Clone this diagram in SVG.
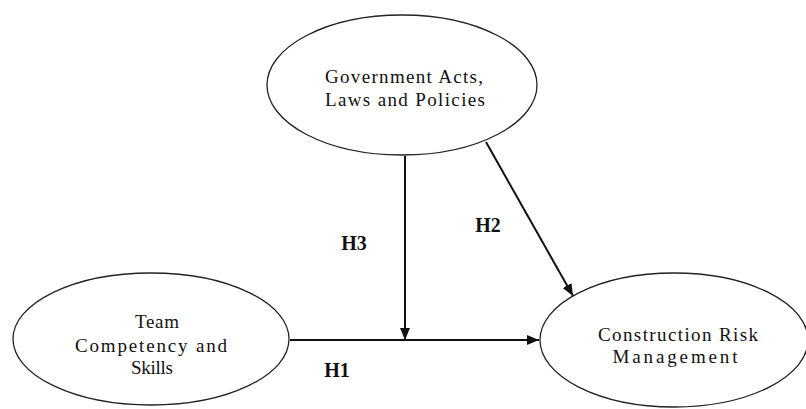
<svg xmlns="http://www.w3.org/2000/svg" width="806" height="409" viewBox="0 0 806 409">
<style>
.node ellipse{fill:#fff;stroke:#222;stroke-width:1.3}
.lbl{font-family:"Liberation Serif","Times New Roman",serif;font-size:19px;fill:#111;text-anchor:middle}
.h{font-family:"Liberation Serif","Times New Roman",serif;font-size:20px;font-weight:bold;fill:#111;text-anchor:middle}
.edge{stroke:#111;stroke-width:2;fill:none}
</style>
<defs>
<marker id="arr" markerWidth="12" markerHeight="12" refX="12" refY="6" orient="auto" markerUnits="userSpaceOnUse" viewBox="0 0 12 12">
<path d="M0,1 L12,6 L0,11 Z" fill="#111"/>
</marker>
</defs>
<rect width="806" height="409" fill="#fff"/>
<g id="gov" class="node">
<ellipse cx="402" cy="85" rx="135" ry="70"/>
<text class="lbl" x="404" y="83" textLength="158" lengthAdjust="spacing">Government Acts,</text>
<text class="lbl" x="405" y="106" textLength="160" lengthAdjust="spacing">Laws and Policies</text>
</g>
<g id="team" class="node">
<ellipse cx="151" cy="339" rx="138" ry="66"/>
<text class="lbl" x="157" y="328" textLength="44" lengthAdjust="spacing">Team</text>
<text class="lbl" x="151" y="352" textLength="152" lengthAdjust="spacing">Competency and</text>
<text class="lbl" x="152" y="374" textLength="42" lengthAdjust="spacing">Skills</text>
</g>
<g id="crm" class="node">
<ellipse cx="674" cy="340" rx="134" ry="67"/>
<text class="lbl" x="678" y="341" textLength="160" lengthAdjust="spacing">Construction Risk</text>
<text class="lbl" x="675" y="363" textLength="125" lengthAdjust="spacing">Management</text>
</g>
<g id="connectors">
<line class="edge" x1="290" y1="340" x2="539" y2="340" marker-end="url(#arr)"/>
<line class="edge" x1="405" y1="156" x2="405" y2="340" marker-end="url(#arr)"/>
<line class="edge" x1="486" y1="142" x2="573" y2="296" marker-end="url(#arr)"/>
</g>
<g id="labels">
<text class="h" x="354" y="250">H3</text>
<text class="h" x="488" y="232">H2</text>
<text class="h" x="337" y="377">H1</text>
</g>
</svg>
